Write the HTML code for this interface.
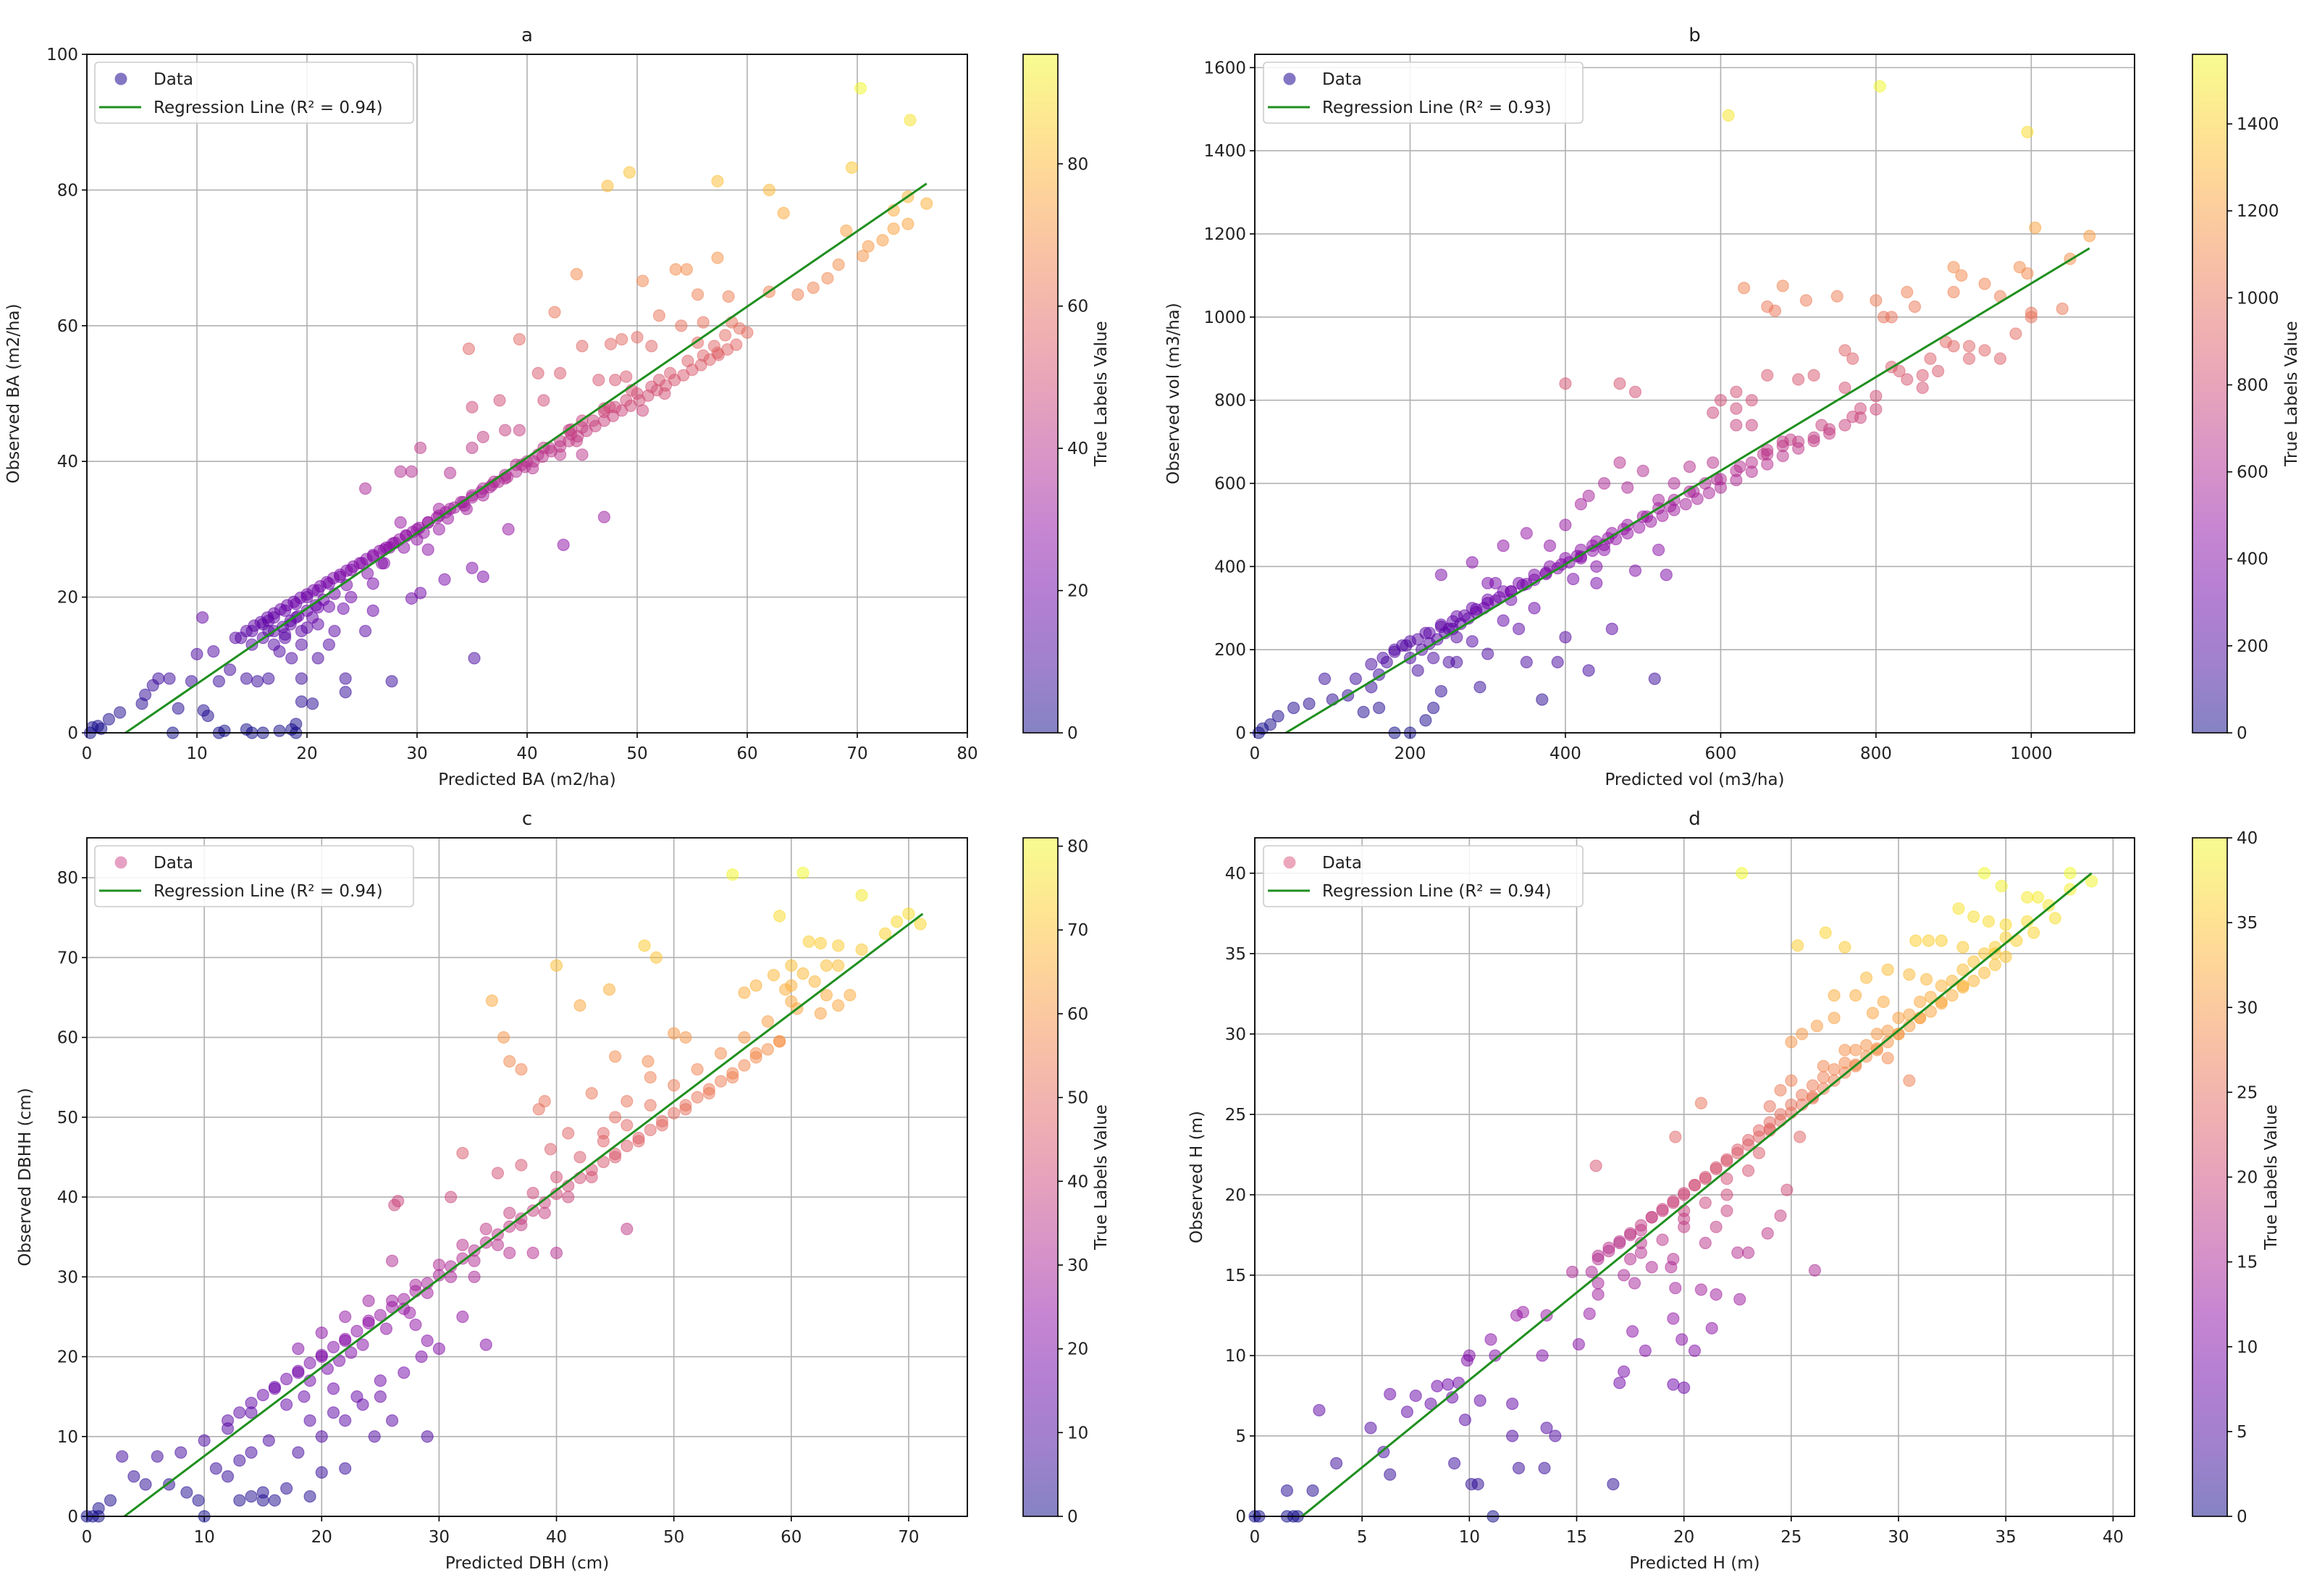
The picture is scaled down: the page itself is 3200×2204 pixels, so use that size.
<!DOCTYPE html>
<html><head><meta charset="utf-8"><style>
html,body{margin:0;padding:0;background:#fff;}
svg{display:block;font-family:"DejaVu Sans","Liberation Sans",sans-serif;}
</style></head><body>
<svg id="fig" width="3200" height="2204" viewBox="0 0 3200 2204" xmlns="http://www.w3.org/2000/svg">
<defs>
<linearGradient id="plasma" x1="0" y1="1" x2="0" y2="0">
<stop offset="0" stop-color="#0d0887"/><stop offset="0.1" stop-color="#41049d"/><stop offset="0.2" stop-color="#6a00a8"/><stop offset="0.3" stop-color="#8f0da4"/><stop offset="0.4" stop-color="#b12a90"/><stop offset="0.5" stop-color="#cc4778"/><stop offset="0.6" stop-color="#e16462"/><stop offset="0.7" stop-color="#f2844b"/><stop offset="0.8" stop-color="#fca636"/><stop offset="0.9" stop-color="#fcce25"/><stop offset="1" stop-color="#f0f921"/>
</linearGradient>
</defs>
</svg>
<script>
// ---------- data ----------
const aX=[70.3,74.8,47.3,49.3,57.3,62,69.5,63.3,44.5,42.5,50.5,53.5,54.5,57.3,55.5,58.3,62,64.6,66,67.3,68.3,69,70.5,71,72.3,73.3,74.6,76.3,73.3,74.6,34.7,39.3,45,47.6,48.6,50,51.3,52,54,56,57.3,59.3,60,58,57,56,54.6,53,52,51.3,50,49,48,47,46,45,44,43,42,41,40,39,38,37,36,35,34,33,32,31,30,29,28,27,26,25,24,23,22,21,20,19,18,17,16,15,14,47,43,41,37.5,35,41.5,46.5,48,49,52.5,50.5,44,45,45,38,39.3,36,35,30.3,33,29.5,28.5,25.3,28.5,32,30,31,38.3,47,43.3,35,36,32.5,30.3,29.5,26,25.3,23.3,22.5,22,21,23.5,23.5,27.7,35.2,20.5,19.5,19.5,18.6,17.5,16.5,15.5,14.5,12,13,11.5,10,10.5,9.5,7.5,6.5,5.3,5,6,8.3,10.6,11,3,2,1,0.5,0.3,1.3,7.8,12,12.5,14.5,15,16,18.6,19,19,17.5,21,20,19.5,18,17,16.5,20.5,22,24,26,27,22.5,27.5,32,34.5,36,38,40.5,43,44.5,18.5,19.2,17.8,20.8,21.5,23.6,25.5,26.8,28.8,30.6,32.8,34.3,36.8,39.5,41.5,43.8,47.5,49.5,55.5,58.6];
const aY=[95,90.3,80.6,82.6,81.3,80,83.3,76.6,67.6,62,66.6,68.3,68.3,70,64.6,64.3,65,64.6,65.6,67,69,74,70.3,71.7,72.6,74.3,75,78,77,79,56.6,58,57,57.3,58,58.3,57,61.5,60,60.5,56,59.6,59,58.6,57,55.6,54.8,53,52,51,50,49,48,47.3,46,45,44,43,42,41,40,39.5,38,37,36,35,34,33,32,31,30,29,28,27,26,25,24,23,22,21,20,19,18,17,16,15,14,47.8,53,53,49,48,49,52,52,52.5,50,47.5,44.7,46,41,44.6,44.6,43.6,42,42,38.3,38.5,38.5,36,31,33,28.5,27,30,31.8,27.7,24.3,23,22.6,20.6,19.8,18,15,18.3,15,13,11,8,6,7.6,11,4.3,4.6,8,11,12,8,7.6,8,7.6,9.3,12,11.6,17,7.6,8,8,5.6,4.3,7,3.6,3.3,2.5,3,2,1,0.8,0,0.6,0,0,0.3,0.5,0,0,0.5,0,1.3,0.3,16,15.5,13,14.5,13,15,17,18.6,20,22,25,20.5,27.3,30,33,35,37.5,39,41,43,16.5,17.2,15.6,18.8,19.6,21.8,23.5,25,27.3,29.5,31.6,33.5,36.5,39.5,42,44.6,48,50.5,57.5,60.5];
const aBX=[13.5,14.5,15.2,15.8,16.4,17,17.6,18.2,18.8,19.4,20,20.6,21.2,21.8,22.4,23,23.6,24.2,24.8,25.4,26,26.6,27.2,27.8,28.4,29,29.6,30.2,31,31.8,32.6,33.4,34.2,35,35.8,36.6,37.4,38.2,39,39.8,40.6,41.4,42.2,43,43.8,44.6,45.4,46.2,47,47.8,48.6,49.4,50.2,51,51.8,52.6,53.4,54.2,55,55.8,56.6,57.4,58.2,59,16,17,18,18.5,19,19.5,20,21,15,16.5];
const aBY=[14,15,15.8,16.3,17,17.6,18.2,18.8,19.3,19.9,20.4,21,21.6,22.2,22.8,23.3,23.9,24.5,25,25.6,26.2,26.8,27.3,27.9,28.5,29.1,29.6,30.2,31,31.7,32.5,33.2,34,34.7,35.5,36.2,37,37.7,38.5,39.2,40,40.7,41.5,42.2,43,43.7,44.5,45.2,46,46.7,47.5,48.2,49,49.7,50.5,51.2,52,52.7,53.5,54.2,55,55.7,56.5,57.2,14,15,14,16,17,15,18,18.5,13,16.5];
const bX=[610,805,995,1005,1075,985,995,900,910,630,680,660,670,750,800,710,810,820,840,850,900,940,960,1000,890,900,920,940,960,980,870,860,840,830,820,760,770,760,720,700,640,620,660,620,600,590,620,640,680,660,590,560,540,480,500,470,430,420,450,520,490,470,400,780,800,770,740,720,700,680,660,640,620,600,580,560,540,520,500,480,460,440,420,400,380,360,340,320,300,280,260,240,220,200,180,860,880,920,1050,1040,1000,515,430,460,440,370,390,400,350,340,320,300,290,280,260,250,240,230,220,200,180,160,140,130,120,100,90,70,50,30,20,10,5,260,250,230,210,200,190,170,160,150,280,310,320,350,380,400,420,450,520,530,490,440,410,360,330,240,300,215,225,235,245,255,265,275,285,295,310,330,350,375,395,415,435,455,475,505,535,565,595,625,655,690,730];
const bY=[1485,1555,1445,1215,1195,1120,1105,1120,1100,1070,1075,1025,1015,1050,1040,1040,1000,1000,1060,1025,1060,1080,1050,1010,940,930,930,920,900,960,900,860,850,870,880,920,900,830,860,850,800,780,860,820,800,770,740,740,700,680,650,640,600,590,630,650,570,550,600,560,820,840,840,780,810,760,730,710,700,690,670,650,630,610,600,580,560,540,520,500,480,460,440,420,400,380,360,340,320,300,280,260,240,220,200,830,870,900,1140,1020,1000,130,150,250,360,80,170,230,170,250,270,190,110,220,230,170,100,60,30,0,0,60,50,130,90,80,130,70,60,40,20,10,0,170,250,180,150,180,210,170,140,110,410,360,450,480,450,500,420,440,440,380,390,400,370,300,320,380,360,200,215,225,240,250,262,275,290,300,318,340,358,385,405,425,450,468,490,520,545,580,610,640,670,705,740];
const bBX=[150,165,180,195,210,225,240,255,270,285,300,315,330,345,360,375,390,405,420,435,450,465,480,495,510,525,540,555,570,585,600,620,640,660,680,700,720,740,760,780,800];
const bBY=[165,180,195,210,225,240,255,268,282,297,312,326,340,355,368,382,396,410,424,438,452,466,480,494,508,522,536,550,563,577,590,608,628,646,666,684,702,720,740,758,778];
const cX=[55,61,59,66,69,71,61.5,62.5,64,60,60,56,57,58.5,59.5,61,63,60.5,62.5,63,65,64,47.5,48.5,40,44.5,42,34.5,35.5,36,37,39,38.5,43,45,47.8,50,51,48,46,45,44,41,39.5,37,35,32,31,26.5,26.2,26,24,22,20,18,16,14,12,10,8,6,4,2,1,0,0.5,1,3,5,7,8.5,9.5,10,15,15,14,13,16,19,17,20,22,12,11,13,14,15.5,18,19,20,21,22,23.5,25,24.5,29,26,27,30,34,32,29,28,38,40,46,33,36,70,68,66,64,62,60,58,56,54,52,50,48,46,44,42,40,38,36,34,32,30,28,26,24,22,20,18,59,57,55,53,51,49,47,45,43,41,39,37,35,33,31,29,27,19,20.5,21.5,22.5,23.5,25.5,27.5,17,18.5,21,23,25,28.5];
const cY=[80.4,80.6,75.2,77.8,74.5,74.2,72,71.8,71.5,69,66.5,65.6,66.5,67.8,66,68,69,63.6,63,65.3,65.3,64,71.5,70,69,66,64,64.6,60,57,56,52,51,53,57.6,57,60.5,60,55,52,50,48,48,46,44,43,45.5,40,39.5,39,32,27,25,23,21,16,13,11,9.5,8,7.5,5,2,1,0,0,0,7.5,4,4,3,2,0,2,3,2.5,2,2,2.5,3.5,5.5,6,5,6,7,8,9.5,8,12,10,13,12,14,15,10,10,12,18,21,21.5,25,22,24,33,33,36,30,33,75.5,73,71,69,67,64.5,62,60,58,56,54,51.5,49,47,45,42.5,40.5,38,36,34,31.5,29,27,24.5,22,20,18,59.5,58,55,53,51,49,47,45,42.5,40,38,36.5,34,32,30,28,26,17,18.5,19.5,20.5,21.5,23.5,25.5,14,15,16,15,17,20];
const cBX=[12,13,14,15,16,17,18,19,20,21,22,23,24,25,26,27,28,29,30,31,32,33,34,35,36,37,38,39,40,41,42,43,44,45,46,47,48,49,50,51,52,53,54,55,56,57,58,59];
const cBY=[12,13,14.2,15.2,16.2,17.2,18.2,19.2,20.2,21.2,22.2,23.2,24.2,25.2,26.2,27.2,28.2,29.2,30.2,31.3,32.3,33.3,34.3,35.3,36.3,37.3,38.3,39.3,40.4,41.4,42.4,43.4,44.4,45.4,46.4,47.4,48.4,49.5,50.5,51.5,52.5,53.5,54.5,55.5,56.5,57.5,58.5,59.5];
const dX=[22.7,34,34.8,38,39,36,36.5,32.8,33.5,35,34.2,37.3,36.3,25.3,27.5,26.6,30.8,31.4,32,33,34.5,28.5,29.5,30.5,31.3,29.3,27,28,28.8,27,26.2,25.5,25,27.5,29.5,30.5,26.5,24.5,25,24,20.8,19.6,25.4,15.9,24.8,24.5,23.9,26.1,23,22.5,21.5,22,21,20,19.5,19.4,18.5,18,17.5,16,16,15.7,14.8,17.2,17.7,21.5,20.8,19.6,22.6,19.5,17.6,18.2,19.9,20.5,21.3,17.2,17,20,19.5,16.7,15.6,15.1,13.6,13.4,12.5,12.2,11,11.2,10,9.9,9.5,9,8.5,7.5,7.1,8.2,9.2,9.8,10.5,12,12,13.6,14,12.3,13.5,9.3,10.1,10.4,11.1,6.3,5.4,6,6.3,3.8,3,2.7,1.5,1.5,1.8,2,0,0.2,38,37,36,35,34,33,32,31,30,29,28,27,26,25,24,23,22,21,20,19,18,17,16,33.5,32.5,31.5,30.5,29.5,28.5,27.5,26.5,25.5,24.5,23.5,22.5,21.5,20.5,19.5,18.5,17.5,16.5,34.5,35.5,33,32,31,30,29,28,26,24,22,20,18,21,20,19,22,23,23.5];
const dY=[40,40,39.2,40,39.5,38.5,38.5,37.8,37.3,36.8,37,37.2,36.3,35.5,35.4,36.3,35.8,35.8,35.8,35.4,35.4,33.5,34,33.7,33.4,32,32.4,32.4,31.3,31,30.5,30,29.5,29,28.5,27.1,28,26.5,27.1,25.5,25.7,23.6,23.6,21.8,20.3,18.7,17.6,15.3,16.4,16.4,18,19,17,18,16,15.5,15.5,16.4,16,13.8,14.5,15.2,15.2,15,14.5,13.8,14.1,14.2,13.5,12.3,11.5,10.3,11,10.3,11.7,9,8.3,8,8.2,2,12.6,10.7,12.5,10,12.7,12.5,11,10,10,9.7,8.3,8.2,8.1,7.5,6.5,7,7.4,6,7.2,7,5,5.5,5,3,3,3.3,2,2,0,7.6,5.5,4,2.6,3.3,6.6,1.6,1.6,0,0,0,0,0,39,38,37,36,35,34,33,32,31,30,29,27.8,26.8,25.6,24.5,23.4,22.2,21,20,19,17.8,17,16,34.5,33.3,32.3,31.2,30.2,29.3,28.2,27.3,26.2,25,24,22.8,21.7,20.6,19.5,18.6,17.5,16.5,35,35.8,33,32,31,30,29,28,26,24,21,19,17,19.5,18.5,17.2,20,21.5,22.6];
const dBX=[16,16.5,17,17.5,18,18.5,19,19.5,20,20.5,21,21.5,22,22.5,23,23.5,24,24.5,25,25.5,26,26.5,27,27.5,28,28.5,29,29.5,30,30.5,31,31.5,32,32.5,33,33.5,34,34.5,35];
const dBY=[16.2,16.7,17.1,17.6,18.1,18.6,19.1,19.6,20.1,20.6,21.1,21.6,22.1,22.6,23.1,23.6,24.1,24.6,25.1,25.6,26.1,26.6,27.1,27.6,28.1,28.6,29.1,29.5,30,30.5,31,31.4,31.9,32.4,32.9,33.3,33.8,34.3,34.8];
// regression: [slope, intercept, xStart, xEnd]
const aReg=[1.112,-3.9,3.5,76.3];
const bReg=[1.126,-45,40,1075];
const cReg=[1.11,-3.55,3.2,71.2];
const dReg=[1.087,-2.39,2.2,39];
const aXTicks=[0,10,20,30,40,50,60,70,80], aYTicks=[0,20,40,60,80,100], aCTicks=[0,20,40,60,80];
const bXTicks=[0,200,400,600,800,1000], bYTicks=[0,200,400,600,800,1000,1200,1400,1600], bCTicks=[0,200,400,600,800,1000,1200,1400];
const cXTicks=[0,10,20,30,40,50,60,70], cYTicks=[0,10,20,30,40,50,60,70,80], cCTicks=[0,10,20,30,40,50,60,70,80];
const dXTicks=[0,5,10,15,20,25,30,35,40], dYTicks=[0,5,10,15,20,25,30,35,40], dCTicks=[0,5,10,15,20,25,30,35,40];
const r2=["0.94","0.93","0.94","0.94"];

// ---------- rendering ----------
const NS="http://www.w3.org/2000/svg";
const svg=document.getElementById('fig');
function el(tag,attrs,parent,text){const e=document.createElementNS(NS,tag);for(const k in attrs)e.setAttribute(k,attrs[k]);if(text!==undefined)e.textContent=text;(parent||svg).appendChild(e);return e;}
const stops=[[13,8,135],[65,4,157],[106,0,168],[143,13,164],[177,42,144],[204,71,120],[225,100,98],[242,132,75],[252,166,54],[252,206,37],[240,249,33]];
function plasma(t){t=Math.max(0,Math.min(1,t))*10;const i=Math.min(9,Math.floor(t)),f=t-i;const a=stops[i],b=stops[i+1];return `rgb(${Math.round(a[0]+(b[0]-a[0])*f)},${Math.round(a[1]+(b[1]-a[1])*f)},${Math.round(a[2]+(b[2]-a[2])*f)})`;}

const panels=[
 {id:'a',X:aX.concat(aBX),Y:aY.concat(aBY),reg:aReg,xt:aXTicks,yt:aYTicks,ct:aCTicks,xr:[0,80],yr:[0,100],cr:[0,95.4],L:120,R:1336,T:75,B:1012,cbL:1413,cbR:1461,xl:'Predicted BA (m2/ha)',yl:'Observed BA (m2/ha)',ylx:26,cblx:1528,leg:[131,571],legc:'rgb(80,60,170)'},
 {id:'b',X:bX.concat(bBX),Y:bY.concat(bBY),reg:bReg,xt:bXTicks,yt:bYTicks,ct:bCTicks,xr:[0,1133],yr:[0,1632],cr:[0,1560],L:1733,R:2948,T:75,B:1012,cbL:3028,cbR:3076,xl:'Predicted vol (m3/ha)',yl:'Observed vol (m3/ha)',ylx:1628,cblx:3172,leg:[1745,2186],legc:'rgb(80,60,170)'},
 {id:'c',X:cX.concat(cBX),Y:cY.concat(cBY),reg:cReg,xt:cXTicks,yt:cYTicks,ct:cCTicks,xr:[0,75],yr:[0,85],cr:[0,81],L:120,R:1336,T:1157,B:2094,cbL:1413,cbR:1461,xl:'Predicted DBH (cm)',yl:'Observed DBHH (cm)',ylx:42,cblx:1528,leg:[131,571],legc:'rgb(220,120,170)'},
 {id:'d',X:dX.concat(dBX),Y:dY.concat(dBY),reg:dReg,xt:dXTicks,yt:dYTicks,ct:dCTicks,xr:[0,41],yr:[0,42.2],cr:[0,40],L:1733,R:2948,T:1157,B:2094,cbL:3028,cbR:3076,xl:'Predicted H (m)',yl:'Observed H (m)',ylx:1660,cblx:3144,leg:[1745,2186],legc:'rgb(230,130,160)'}
];
panels.forEach(p=>{
 const g=el('g',{});  
 const sx=v=>p.L+(v-p.xr[0])/(p.xr[1]-p.xr[0])*(p.R-p.L);
 const sy=v=>p.B-(v-p.yr[0])/(p.yr[1]-p.yr[0])*(p.B-p.T);
 p.xt.forEach(t=>{const x=sx(t);const l=el('line',{x1:x,x2:x,y1:p.T,y2:p.B,stroke:'#b0b0b0','stroke-width':1.6},g);
  el('line',{x1:x,x2:x,y1:p.B,y2:p.B+7,stroke:'#000','stroke-width':1.6},g);
  const tx=el('text',{x:x,y:p.B+36,'font-size':23,'text-anchor':'middle',fill:'#222'},g,String(t));});
 p.yt.forEach(t=>{const y=sy(t);const l=el('line',{x1:p.L,x2:p.R,y1:y,y2:y,stroke:'#b0b0b0','stroke-width':1.6},g);
  el('line',{x1:p.L-7,x2:p.L,y1:y,y2:y,stroke:'#000','stroke-width':1.6},g);
  const tx=el('text',{x:p.L-12,y:y+8,'font-size':23,'text-anchor':'end',fill:'#222'},g,String(t));});
 const pg=el('g',{},g);  
 p.X.forEach((xv,i)=>{const col=plasma((p.Y[i]-p.cr[0])/(p.cr[1]-p.cr[0]));const c=el('circle',{cx:sx(xv),cy:sy(p.Y[i]),r:8,fill:col,'fill-opacity':0.5,stroke:col,'stroke-opacity':0.5,'stroke-width':1.2},pg);
  
  });
 const rl=el('line',{x1:sx(p.reg[2]),y1:sy(p.reg[0]*p.reg[2]+p.reg[1]),x2:sx(p.reg[3]),y2:sy(p.reg[0]*p.reg[3]+p.reg[1]),stroke:'#1f8f1f','stroke-width':3},g);
  
 const fr=el('rect',{x:p.L,y:p.T,width:p.R-p.L,height:p.B-p.T,fill:'none',stroke:'#000','stroke-width':1.8},g);
  
 const ti=el('text',{x:(p.L+p.R)/2,y:p.T-18,'font-size':26,'text-anchor':'middle',fill:'#222'},g,p.id);
  
 const xl=el('text',{x:(p.L+p.R)/2,y:p.B+72,'font-size':23,'text-anchor':'middle',fill:'#222'},g,p.xl);
  
 const yl=el('text',{x:p.ylx,y:(p.T+p.B)/2,'font-size':23,'text-anchor':'middle',fill:'#222',transform:`rotate(-90 ${p.ylx} ${(p.T+p.B)/2})`},g,p.yl);
  
 const lg=el('g',{},g);  
 el('rect',{x:p.leg[0],y:p.T+11,width:p.leg[1]-p.leg[0],height:84,rx:5,fill:'#fff','fill-opacity':0.85,stroke:'#ccc','stroke-width':1.6},lg);
 el('circle',{cx:p.leg[0]+36,cy:p.T+34,r:8.5,fill:p.legc,'fill-opacity':0.7},lg);
 const t1=el('text',{x:p.leg[0]+81,y:p.T+42,'font-size':23,fill:'#222'},lg,'Data');
  
 el('line',{x1:p.leg[0]+6,x2:p.leg[0]+64,y1:p.T+73,y2:p.T+73,stroke:'#1f8f1f','stroke-width':3},lg);
 const t2=el('text',{x:p.leg[0]+81,y:p.T+81,'font-size':23,fill:'#222'},lg,'Regression Line (R² = '+r2[['a','b','c','d'].indexOf(p.id)]+')');
  
 const cb=el('g',{});  
 el('rect',{x:p.cbL,y:p.T,width:p.cbR-p.cbL,height:p.B-p.T,fill:'url(#plasma)','fill-opacity':0.5,stroke:'#000','stroke-width':1.6},cb);
 const cy=v=>p.B-(v-p.cr[0])/(p.cr[1]-p.cr[0])*(p.B-p.T);
 p.ct.forEach(t=>{const y=cy(t);el('line',{x1:p.cbR,x2:p.cbR+7,y1:y,y2:y,stroke:'#000','stroke-width':1.6},cb);
  const tx=el('text',{x:p.cbR+13,y:y+8,'font-size':23,fill:'#222'},cb,String(t));});
 const cl=el('text',{x:p.cblx,y:(p.T+p.B)/2,'font-size':23,'text-anchor':'middle',fill:'#222',transform:`rotate(-90 ${p.cblx} ${(p.T+p.B)/2})`},cb,'True Labels Value');
  
});
</script>
</body></html>
